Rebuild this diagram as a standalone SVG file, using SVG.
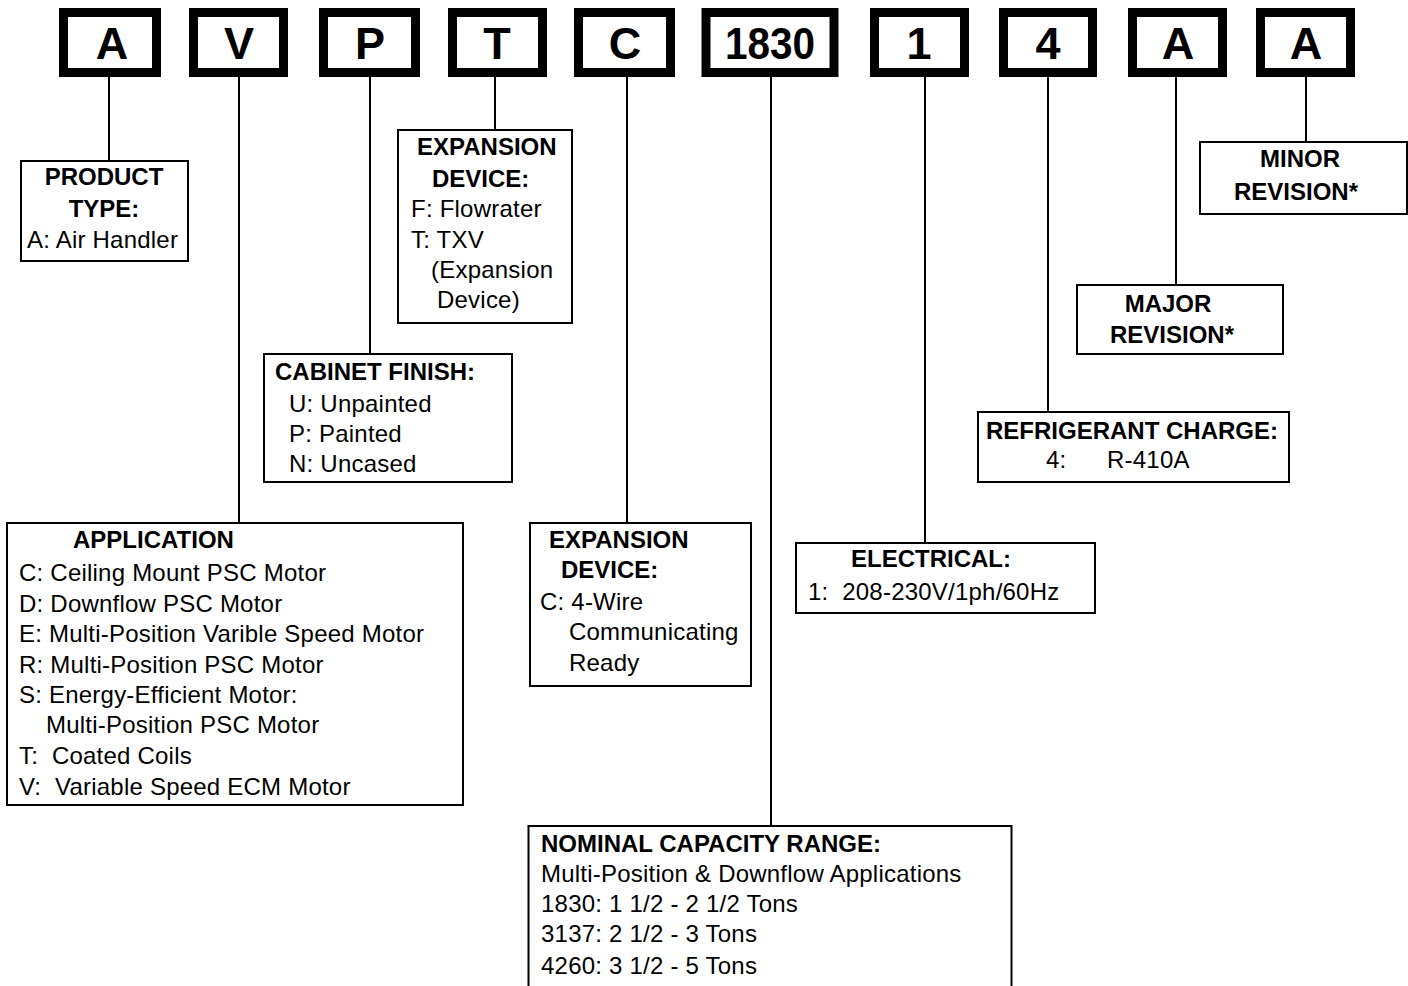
<svg xmlns="http://www.w3.org/2000/svg" width="1408" height="986" viewBox="0 0 1408 986">
<style>
text{font-family:"Liberation Sans",Arial,sans-serif;fill:#000}
.big{font-size:45px;font-weight:bold;text-anchor:middle}
.h{font-size:24px;font-weight:bold}
.t{font-size:24px;letter-spacing:0.22px}
.c{text-anchor:middle}
.code{fill:#fff;stroke:#000;stroke-width:9}
.box{fill:#fff;stroke:#000;stroke-width:2}
.ln{stroke:#000;stroke-width:2;fill:none}
</style>
<rect width="1408" height="986" fill="#fff"/>
<g id="connectors">
<line class="ln" x1="109" y1="77" x2="109" y2="161"/>
<line class="ln" x1="239" y1="77" x2="239" y2="523"/>
<line class="ln" x1="370" y1="77" x2="370" y2="354"/>
<line class="ln" x1="495" y1="77" x2="495" y2="130"/>
<line class="ln" x1="627" y1="77" x2="627" y2="523"/>
<line class="ln" x1="771" y1="77" x2="771" y2="826"/>
<line class="ln" x1="925" y1="77" x2="925" y2="543"/>
<line class="ln" x1="1048" y1="77" x2="1048" y2="412"/>
<line class="ln" x1="1176" y1="77" x2="1176" y2="285"/>
<line class="ln" x1="1306" y1="77" x2="1306" y2="142"/>
</g>
<g id="code-A1"><rect class="code" x="63.5" y="12.5" width="93" height="60"/><text class="big" x="112" y="59">A</text></g>
<g id="code-V"><rect class="code" x="193.5" y="12.5" width="90" height="60"/><text class="big" x="239" y="59">V</text></g>
<g id="code-P"><rect class="code" x="323.5" y="12.5" width="92" height="60"/><text class="big" x="370" y="59">P</text></g>
<g id="code-T"><rect class="code" x="452.5" y="12.5" width="90" height="60"/><text class="big" x="497" y="59">T</text></g>
<g id="code-C"><rect class="code" x="578.5" y="12.5" width="92" height="60"/><text class="big" x="625" y="59">C</text></g>
<g id="code-1830"><rect class="code" x="706" y="12.5" width="128" height="60"/><text class="big" x="770" y="59" textLength="90" lengthAdjust="spacingAndGlyphs">1830</text></g>
<g id="code-1"><rect class="code" x="874.5" y="12.5" width="90" height="60"/><text class="big" x="919" y="59">1</text></g>
<g id="code-4"><rect class="code" x="1003.5" y="12.5" width="89" height="60"/><text class="big" x="1048" y="59">4</text></g>
<g id="code-A2"><rect class="code" x="1132.5" y="12.5" width="90" height="60"/><text class="big" x="1178" y="59">A</text></g>
<g id="code-A3"><rect class="code" x="1260.5" y="12.5" width="90" height="60"/><text class="big" x="1306" y="59">A</text></g>

<g id="product-type"><rect class="box" x="21" y="161" width="167" height="100"/>
<text class="h c" x="104" y="185">PRODUCT</text>
<text class="h c" x="104" y="217">TYPE:</text>
<text class="t" x="27" y="248">A: Air Handler</text></g>

<g id="expansion-device-T"><rect class="box" x="398" y="130" width="174" height="193"/>
<text class="h" x="417" y="155">EXPANSION</text>
<text class="h" x="432" y="187">DEVICE:</text>
<text class="t" x="411" y="217">F: Flowrater</text>
<text class="t" x="411" y="248">T: TXV</text>
<text class="t" x="431" y="278">(Expansion</text>
<text class="t" x="437" y="308">Device)</text></g>

<g id="cabinet-finish"><rect class="box" x="264" y="354" width="248" height="128"/>
<text class="h" x="275" y="380">CABINET FINISH:</text>
<text class="t" x="289" y="412">U: Unpainted</text>
<text class="t" x="289" y="442">P: Painted</text>
<text class="t" x="289" y="472">N: Uncased</text></g>

<g id="application"><rect class="box" x="7" y="523" width="456" height="282"/>
<text class="h" x="73" y="548">APPLICATION</text>
<text class="t" x="19" y="581">C: Ceiling Mount PSC Motor</text>
<text class="t" x="19" y="612">D: Downflow PSC Motor</text>
<text class="t" x="19" y="642">E: Multi-Position Varible Speed Motor</text>
<text class="t" x="19" y="673">R: Multi-Position PSC Motor</text>
<text class="t" x="19" y="703">S: Energy-Efficient Motor:</text>
<text class="t" x="46" y="733">Multi-Position PSC Motor</text>
<text class="t" x="19" y="764" xml:space="preserve">T:  Coated Coils</text>
<text class="t" x="19" y="795" xml:space="preserve">V:  Variable Speed ECM Motor</text></g>

<g id="expansion-device-C"><rect class="box" x="530" y="523" width="221" height="163"/>
<text class="h" x="549" y="548">EXPANSION</text>
<text class="h" x="561" y="578">DEVICE:</text>
<text class="t" x="540" y="610">C: 4-Wire</text>
<text class="t" x="569" y="640">Communicating</text>
<text class="t" x="569" y="671">Ready</text></g>

<g id="electrical"><rect class="box" x="796" y="543" width="299" height="70"/>
<text class="h" x="851" y="567">ELECTRICAL:</text>
<text class="t" x="808" y="600" xml:space="preserve">1:  208-230V/1ph/60Hz</text></g>

<g id="refrigerant-charge"><rect class="box" x="978" y="412" width="311" height="70"/>
<text class="h" x="986" y="439">REFRIGERANT CHARGE:</text>
<text class="t" x="1046" y="468">4:</text>
<text class="t" x="1107" y="468">R-410A</text></g>

<g id="major-revision"><rect class="box" x="1077" y="285" width="206" height="69"/>
<text class="h c" x="1168" y="312">MAJOR</text>
<text class="h c" x="1172" y="343">REVISION*</text></g>

<g id="minor-revision"><rect class="box" x="1200" y="142" width="207" height="72"/>
<text class="h c" x="1300" y="167">MINOR</text>
<text class="h c" x="1296" y="200">REVISION*</text></g>

<g id="nominal-capacity"><path class="ln" d="M528.5,990 V826 H1011.5 V990"/>
<text class="h" x="541" y="852">NOMINAL CAPACITY RANGE:</text>
<text class="t" x="541" y="882">Multi-Position &amp; Downflow Applications</text>
<text class="t" x="541" y="912">1830: 1 1/2 - 2 1/2 Tons</text>
<text class="t" x="541" y="942">3137: 2 1/2 - 3 Tons</text>
<text class="t" x="541" y="974">4260: 3 1/2 - 5 Tons</text></g>
</svg>
